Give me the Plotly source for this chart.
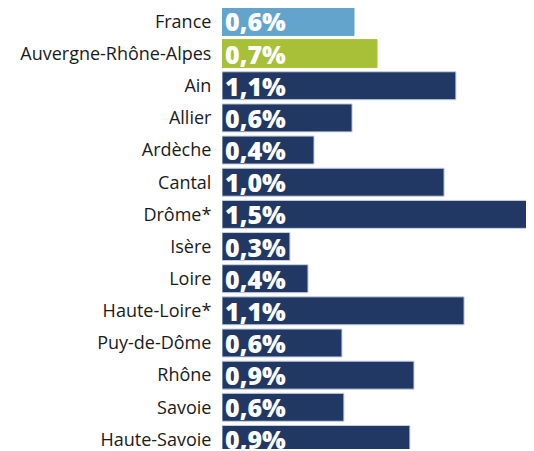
import plotly.graph_objects as go

categories = ["France", "Auvergne-Rhône-Alpes", "Ain", "Allier", "Ardèche", "Cantal",
              "Drôme*", "Isère", "Loire", "Haute-Loire*", "Puy-de-Dôme", "Rhône",
              "Savoie", "Haute-Savoie"]
values = [0.614, 0.721, 1.088, 0.605, 0.428, 1.033, 1.50, 0.316, 0.400, 1.126,
          0.558, 0.893, 0.567, 0.874]
value_labels = ["0,6%", "0,7%", "1,1%", "0,6%", "0,4%", "1,0%", "1,5%", "0,3%",
                "0,4%", "1,1%", "0,6%", "0,9%", "0,6%", "0,9%"]

navy = "#213865"
colors = ["#63a4cc", "#a8c037"] + [navy] * (len(categories) - 2)
line_colors = ["#63a4cc", "#a8c037"] + ["#c9d1e0"] * (len(categories) - 2)

fig = go.Figure(go.Bar(
    x=values,
    y=categories,
    orientation="h",
    marker=dict(color=colors, line=dict(color=line_colors, width=1)),
    text=value_labels,
    textposition="inside",
    insidetextanchor="start",
    textfont=dict(family="Open Sans", size=25, color="white", weight=800),
    cliponaxis=True,
    hoverinfo="skip",
))

fig.update_layout(
    width=518, height=443,
    margin=dict(l=214, r=0, t=0, b=0),
    paper_bgcolor="white", plot_bgcolor="white",
    showlegend=False,
    bargap=0.13,
    uniformtext=dict(minsize=25, mode="show"),
    xaxis=dict(range=[0, 1.414], visible=False, fixedrange=True),
    yaxis=dict(
        range=[13.297, -0.418],
        showgrid=False, zeroline=False, showline=False,
        ticks="outside", ticklen=6, tickcolor="rgba(0,0,0,0)",
        tickfont=dict(family="Open Sans", size=18, color="#1a1a1a"),
    ),
)

fig.write_html("out.html")
